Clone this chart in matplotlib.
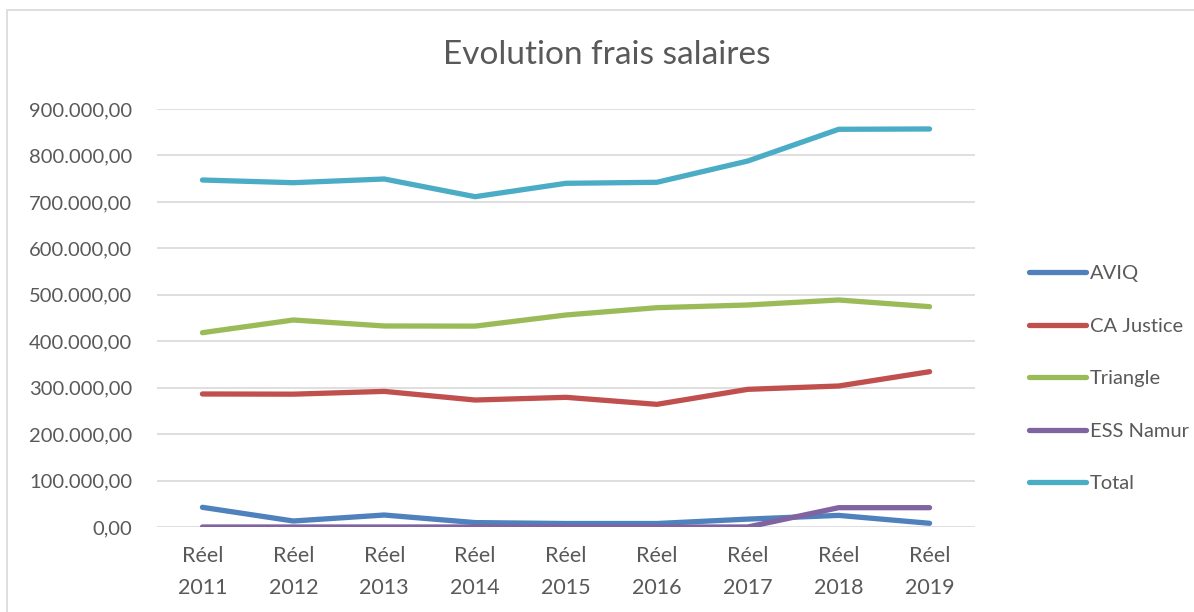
import matplotlib.pyplot as plt
from matplotlib.patches import Rectangle

categories = ["Réel\n2011", "Réel\n2012", "Réel\n2013", "Réel\n2014", "Réel\n2015",
              "Réel\n2016", "Réel\n2017", "Réel\n2018", "Réel\n2019"]
aviq = [42400, 12900, 25800, 9500, 7500, 7500, 17000, 25000, 8000]
ca_justice = [286400, 286000, 292000, 273400, 279200, 264100, 296400, 303600, 334400]
triangle = [418400, 445700, 432800, 432500, 456500, 472200, 478000, 488800, 474400]
ess_namur = [0, 0, 0, 0, 0, 0, 0, 41600, 41600]
total = [747100, 741300, 749300, 711200, 740000, 742200, 788000, 856300, 857000]

series = [("AVIQ", aviq, "#4F81BD"),
          ("CA Justice", ca_justice, "#C0504D"),
          ("Triangle", triangle, "#9BBB59"),
          ("ESS Namur", ess_namur, "#8064A2"),
          ("Total", total, "#4BACC6")]

plt.rcParams['font.family'] = ['Lato', 'DejaVu Sans']
txt = "#595959"

fig = plt.figure(figsize=(11.94, 6.12), dpi=100)
ax = fig.add_axes([157/1194, 1 - 527/612, 818/1194, 418/612])

x = list(range(len(categories)))
lines = []
for name, vals, col in series:
    l, = ax.plot(x, vals, color=col, linewidth=3.8, solid_capstyle='round',
                 solid_joinstyle='round', label=name, zorder=3)
    lines.append(l)

ax.set_xlim(-0.5, len(categories) - 0.5)
ax.set_ylim(0, 900000)
yt = list(range(0, 900001, 100000))
ax.set_yticks(yt)
ax.set_yticklabels([f"{v:,.2f}".replace(",", " ").replace(".", ",").replace(" ", ".") for v in yt])
ax.set_xticks(x)
ax.set_xticklabels(categories, linespacing=1.75)
ax.tick_params(axis='y', length=0, labelsize=14.5, colors=txt, pad=18)
ax.tick_params(axis='x', length=0, labelsize=15.5, colors=txt, pad=14)
ax.grid(axis='y', color="#D9D9D9", linewidth=1.2, zorder=0)
for s in ax.spines.values():
    s.set_visible(False)

fig.text(607/1194, 1 - 55/612, "Evolution frais salaires", ha='center', va='center',
         fontsize=24, color=txt)

leg = fig.legend(handles=lines, loc='upper left', bbox_to_anchor=(1011/1194, 1 - 247/612),
                 frameon=False, fontsize=14.5, handlelength=2.8, handletextpad=0.2,
                 labelspacing=1.76, labelcolor=txt)

fig.patches.append(Rectangle((7/1194, -0.1), 1.2, 1 - 10/612 + 0.1, transform=fig.transFigure,
                             fill=False, edgecolor="#D9D9D9", linewidth=1.2))

fig.savefig("out.png", dpi=100)
